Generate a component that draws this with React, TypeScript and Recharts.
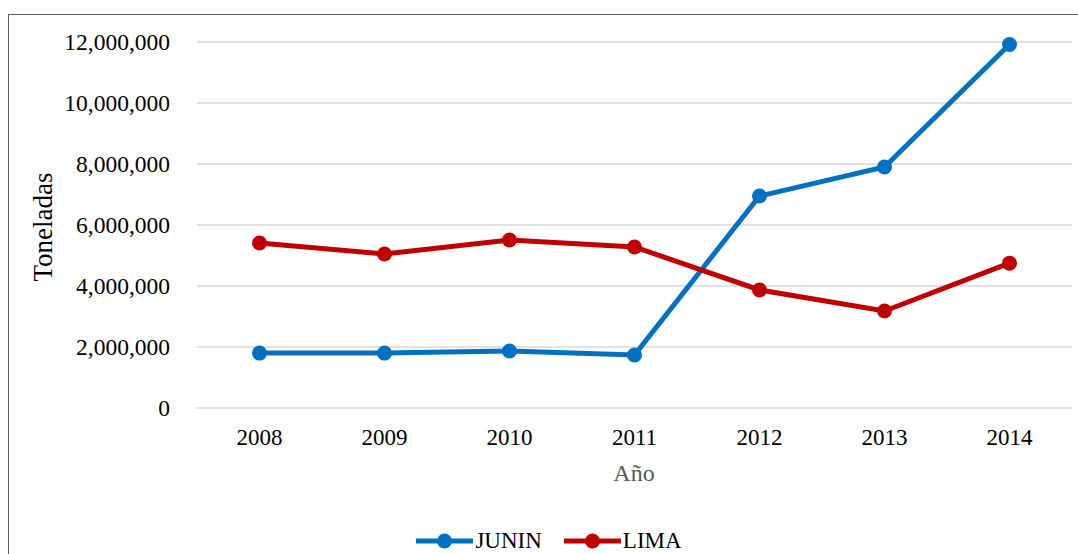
import { LineChart, Line, XAxis, YAxis, CartesianGrid, Legend } from 'recharts'

const years = ['2008', '2009', '2010', '2011', '2012', '2013', '2014']
const junin = [1800000, 1800000, 1870000, 1740000, 6950000, 7900000, 11920000]
const lima = [5410000, 5050000, 5510000, 5280000, 3870000, 3180000, 4750000]
const yTicks = [0, 2000000, 4000000, 6000000, 8000000, 10000000, 12000000]

const series = [
  { key: 'JUNIN', color: '#0070C0' },
  { key: 'LIMA', color: '#C00000' },
]

const data = years.map((year, i) => ({ year, JUNIN: junin[i], LIMA: lima[i] }))

const FONT = '"Liberation Serif", "Times New Roman", serif'

const fmt = (v: number) => v.toLocaleString('en-US')

function LegendContent() {
  return (
    <div style={{ display: 'flex', justifyContent: 'center', gap: 22, fontFamily: FONT, fontSize: 23, color: '#000' }}>
      {series.map((s) => (
        <div key={s.key} style={{ display: 'flex', alignItems: 'center', gap: 2 }}>
          <svg width={57} height={16} viewBox="0 0 57 16">
            <line x1={0} y1={8} x2={57} y2={8} stroke={s.color} strokeWidth={5} strokeLinecap="round" />
            <circle cx={28.5} cy={8} r={7.5} fill={s.color} />
          </svg>
          <span>{s.key}</span>
        </div>
      ))}
    </div>
  )
}

export default function App() {
  return (
    <div style={{ position: 'absolute', left: 0, top: 0, width: 1078, height: 554, overflow: 'hidden', background: '#fff' }}>
      <div
        style={{
          position: 'absolute',
          left: 8,
          top: 14,
          width: 1100,
          height: 600,
          borderTop: '1.5px solid #5a5a5a',
          borderLeft: '1.5px solid #5a5a5a',
        }}
      />
      <div style={{ position: 'absolute', left: 0, top: 0 }}>
        <LineChart width={1078} height={554} data={data} margin={{ top: 42, right: 6, left: 0, bottom: 66 }}>
          <CartesianGrid vertical={false} stroke="#D9D9D9" strokeWidth={1.5} />
          <XAxis
            dataKey="year"
            axisLine={false}
            tickLine={false}
            tickSize={0}
            tickMargin={21}
            height={80}
            padding={{ left: 62.5, right: 62.5 }}
            tick={{ fill: '#000', fontSize: 23, fontFamily: FONT }}
            label={{
              content: () => (
                <text x={634} y={481} textAnchor="middle" fill="#595959" fontSize={24} fontFamily={FONT}>
                  Año
                </text>
              ),
            }}
          />
          <YAxis
            width={197}
            domain={[0, 12000000]}
            ticks={yTicks}
            axisLine={false}
            tickLine={false}
            tickSize={0}
            tickMargin={27}
            tickFormatter={fmt}
            tick={{ fill: '#000', fontSize: 23.5, fontFamily: FONT }}
            label={{
              content: () => (
                <text
                  x={52}
                  y={227}
                  transform="rotate(-90 52 227)"
                  textAnchor="middle"
                  fill="#000"
                  fontSize={27}
                  fontFamily={FONT}
                >
                  Toneladas
                </text>
              ),
            }}
          />
          <Legend
            verticalAlign="middle"
            align="center"
            content={<LegendContent />}
            wrapperStyle={{ top: 528, left: 10, width: 1078 }}
          />
          {series.map((s) => (
            <Line
              key={s.key}
              dataKey={s.key}
              stroke={s.color}
              strokeWidth={5}
              dot={{ r: 7.5, fill: s.color, stroke: s.color, strokeWidth: 0 }}
              activeDot={false}
              isAnimationActive={false}
            />
          ))}
        </LineChart>
      </div>
    </div>
  )
}
